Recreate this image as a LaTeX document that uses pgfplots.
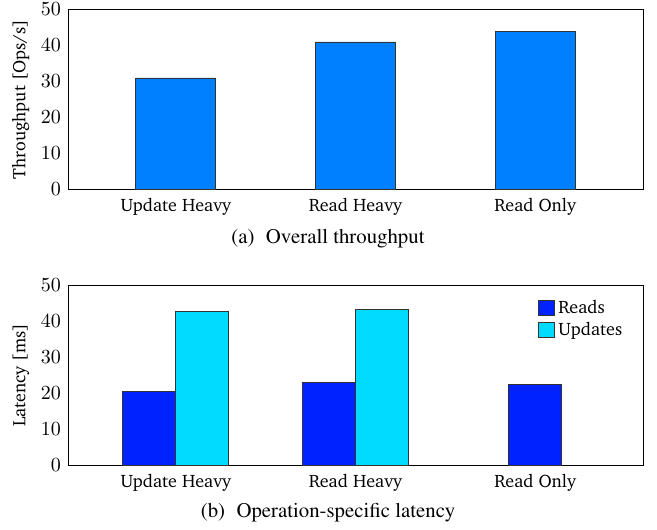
\documentclass[border=0pt]{standalone}
\usepackage[T1]{fontenc}
\usepackage{charter}
\usepackage{pgfplots}
\pgfplotsset{compat=1.18}
\definecolor{thr}{RGB}{0,127,255}
\definecolor{rd}{RGB}{0,34,255}
\definecolor{up}{RGB}{0,219,255}
\newcommand{\capfont}{\fontfamily{ptm}\fontsize{10.4}{12}\selectfont}
\begin{document}
\begin{tikzpicture}
% page frame with a small white margin around both panels
\useasboundingbox (-34pt,-169.85pt) rectangle (294.5pt,94.75pt);
\pgfplotsset{
  common/.style={
    width=287.5pt, height=90pt, scale only axis,
    xmin=-0.6, xmax=2.6, ymin=0, ymax=50,
    ytick={0,10,...,50},
    xtick={0,1,2},
    xticklabels={Update Heavy, Read Heavy, Read Only},
    major tick length=0pt,
    axis line style={black},
    ylabel style={font=\small, yshift=-1pt},
    yticklabel style={font=\normalsize},
    xticklabel style={font=\small, yshift=-1pt},
  },
}
\begin{axis}[common, name=top, ylabel={Throughput [Ops/s]}]
  \addplot[ybar, bar width=40pt, bar shift=0pt, fill=thr, draw=black!80]
    coordinates {(0,31) (1,41) (2,44)};
\end{axis}
\node[font=\capfont] at (130pt,-24.5pt) {(a)\hspace{0.55em}Overall throughput};

\begin{axis}[common, at={(0,-137.85pt)}, anchor=south west,
  ylabel={Latency [ms]},
  legend style={at={(0.975,0.955)}, anchor=north east, draw=none, fill=none,
    row sep=-1pt, font=\small, inner sep=1pt},
  legend cell align=left,
  legend image code/.code={
    \draw[#1] (0pt,-3.8pt) rectangle (8pt,3.8pt);
  }]
  \addplot[ybar, bar width=26.5pt, bar shift=0pt, fill=rd, draw=black!80]
    coordinates {(-0.147,20.6) (0.853,23.0) (2,22.4)};
  \addlegendentry{Reads}
  \addplot[ybar, bar width=26.5pt, bar shift=0pt, fill=up, draw=black!80]
    coordinates {(0.147,42.7) (1.147,43.2)};
  \addlegendentry{Updates}
\end{axis}
\node[font=\capfont] at (130pt,-161.5pt) {(b)\hspace{0.55em}Operation-specific latency};
\end{tikzpicture}
\end{document}
